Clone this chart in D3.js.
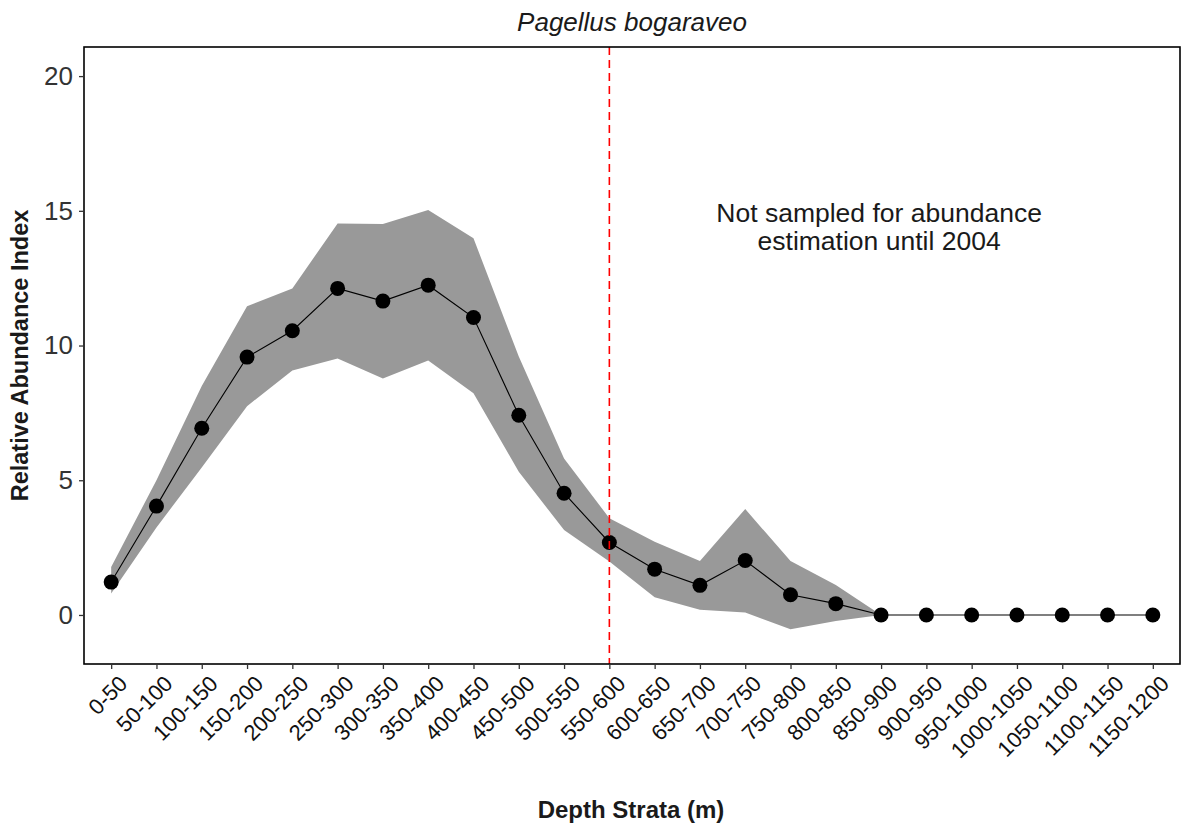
<!DOCTYPE html>
<html>
<head>
<meta charset="utf-8">
<script src="https://cdn.jsdelivr.net/npm/d3@7"></script>
<style>
  html, body { margin: 0; padding: 0; background: #fff; }
  text { font-family: "Liberation Sans", Arial, sans-serif; }
</style>
</head>
<body>
<svg id="chart" width="1187" height="830"></svg>
<script>
const categories = ["0-50","50-100","100-150","150-200","200-250","250-300","300-350","350-400","400-450","450-500","500-550","550-600","600-650","650-700","700-750","750-800","800-850","850-900","900-950","950-1000","1000-1050","1050-1100","1100-1150","1150-1200"];
const meanIndex = [1.22, 4.04, 6.93, 9.57, 10.55, 12.12, 11.65, 12.24, 11.04, 7.41, 4.52, 2.69, 1.70, 1.10, 2.02, 0.75, 0.42, 0, 0, 0, 0, 0, 0, 0];
const upperCI   = [1.78, 5.0, 8.5, 11.46, 12.12, 14.53, 14.51, 15.03, 13.98, 9.59, 5.81, 3.59, 2.72, 2.0, 3.93, 2.0, 1.11, 0, 0, 0, 0, 0, 0, 0];
const lowerCI   = [0.8, 3.25, 5.47, 7.75, 9.07, 9.52, 8.78, 9.44, 8.23, 5.32, 3.15, 1.98, 0.66, 0.19, 0.09, -0.53, -0.22, 0, 0, 0, 0, 0, 0, 0];
const yTicks = [0, 5, 10, 15, 20];
const cutoffCategory = "550-600";
const noteCategory = "850-900";
const noteValue = 14.4;
const noteLines = ["Not sampled for abundance", "estimation until 2004"];
const titleText = "Pagellus bogaraveo";
const xTitle = "Depth Strata (m)";
const yTitle = "Relative Abundance Index";

const svg = d3.select("#chart");
const P = {left: 84, right: 1180, top: 47, bottom: 664};

const x = d3.scalePoint().domain(categories).range([P.left, P.right]).padding(0.6);
const y = d3.scaleLinear().domain([-1.82, 21.08]).range([P.bottom, P.top]);

const data = categories.map((c, i) => ({c, m: meanIndex[i], lo: lowerCI[i], hi: upperCI[i]}));

// ribbon
svg.append("path")
  .datum(data)
  .attr("fill", "#999999")
  .attr("d", d3.area().x(d => x(d.c)).y0(d => y(d.lo)).y1(d => y(d.hi)));

// line
svg.append("path")
  .datum(data)
  .attr("fill", "none")
  .attr("stroke", "#000")
  .attr("stroke-width", 1.1)
  .attr("d", d3.line().x(d => x(d.c)).y(d => y(d.m)));

// points
svg.append("g").selectAll("circle").data(data).join("circle")
  .attr("cx", d => x(d.c)).attr("cy", d => y(d.m)).attr("r", 7.5).attr("fill", "#000");

// red dashed line
svg.append("line")
  .attr("x1", x(cutoffCategory)).attr("x2", x(cutoffCategory))
  .attr("y1", P.top).attr("y2", P.bottom)
  .attr("stroke", "#ff0000").attr("stroke-width", 1.6)
  .attr("stroke-dasharray", "8,5");

// annotation
const note = svg.append("text")
  .attr("x", x(noteCategory))
  .attr("y", y(noteValue))
  .attr("text-anchor", "middle")
  .attr("font-size", 26.5)
  .attr("fill", "#1a1a1a");
noteLines.forEach((t, i) => {
  note.append("tspan").attr("x", x(noteCategory) - 2).attr("y", y(noteValue) - 5 + i * 28).text(t);
});

// panel border
svg.append("rect")
  .attr("x", P.left).attr("y", P.top)
  .attr("width", P.right - P.left).attr("height", P.bottom - P.top)
  .attr("fill", "none").attr("stroke", "#000").attr("stroke-width", 1.6);

// y axis
const yAxis = svg.append("g").attr("transform", `translate(${P.left},0)`)
  .call(d3.axisLeft(y).tickValues(yTicks).tickSize(5).tickPadding(6).tickFormat(d3.format("d")));
yAxis.select(".domain").remove();
yAxis.selectAll(".tick line").attr("stroke", "#333").attr("stroke-width", 1.3);
yAxis.selectAll(".tick text").attr("font-size", 26).attr("fill", "#333")
  .attr("font-family", "Liberation Sans, Arial, sans-serif");

// x axis
const xAxis = svg.append("g").attr("transform", `translate(0,${P.bottom})`)
  .call(d3.axisBottom(x).tickSize(5).tickPadding(0));
xAxis.select(".domain").remove();
xAxis.selectAll(".tick line").attr("stroke", "#333").attr("stroke-width", 1.3);
xAxis.selectAll(".tick text")
  .attr("font-size", 22).attr("fill", "#111")
  .attr("font-family", "Liberation Sans, Arial, sans-serif")
  .attr("text-anchor", "end")
  .attr("dy", null)
  .attr("y", 0)
  .attr("transform", "translate(17,21) rotate(-45)");

// title
svg.append("text")
  .attr("x", (P.left + P.right) / 2).attr("y", 31)
  .attr("text-anchor", "middle").attr("font-size", 26).attr("font-style", "italic")
  .attr("fill", "#1a1a1a").text(titleText);

// axis titles
svg.append("text")
  .attr("x", (P.left + P.right) / 2 - 1).attr("y", 818)
  .attr("text-anchor", "middle").attr("font-size", 24).attr("font-weight", "bold")
  .attr("fill", "#1a1a1a").text(xTitle);

svg.append("text")
  .attr("transform", `translate(28,${(P.top + P.bottom) / 2}) rotate(-90)`)
  .attr("text-anchor", "middle").attr("font-size", 23.5).attr("font-weight", "bold")
  .attr("fill", "#1a1a1a").text(yTitle);
</script>
</body>
</html>
